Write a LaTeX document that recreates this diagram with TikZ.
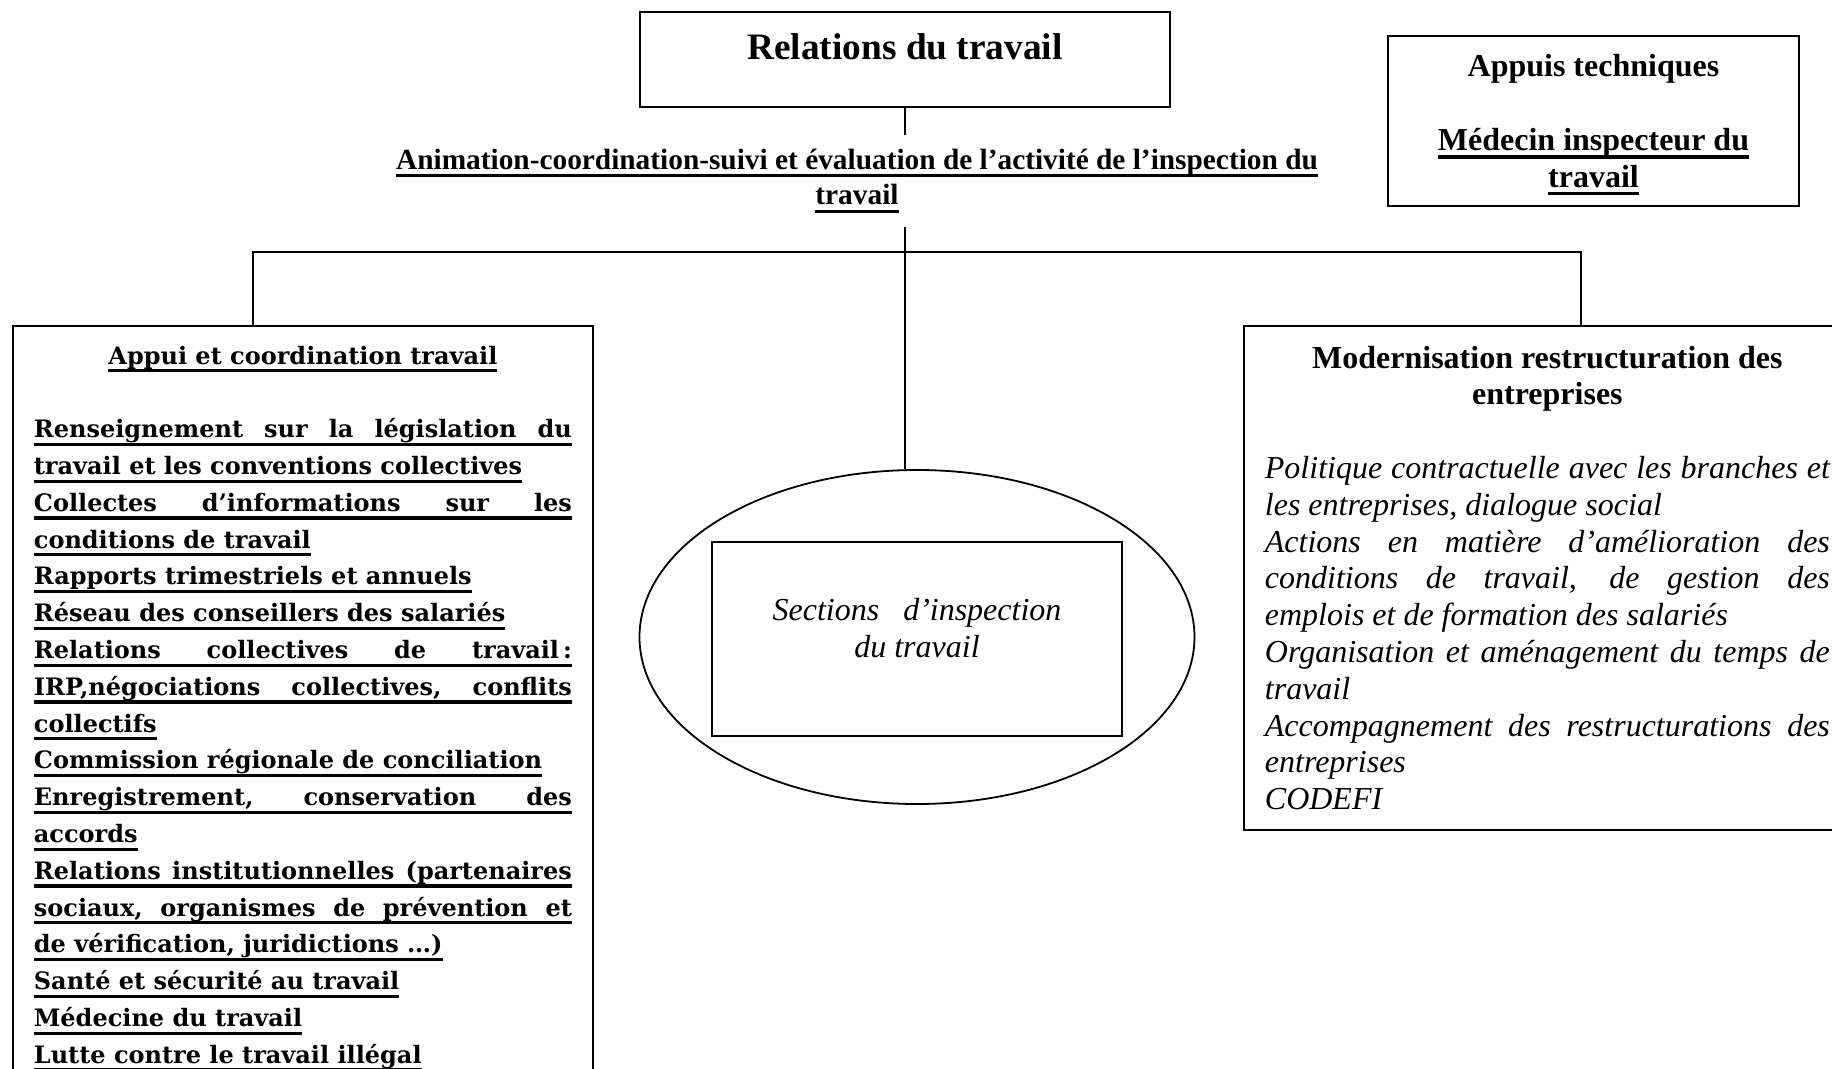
\documentclass[tikz,border=0pt]{standalone}
\usepackage{fontspec}
\setmainfont{Liberation Serif}
\newfontfamily\wideserif{DejaVu Serif}
\usetikzlibrary{shapes.geometric}
\setlength{\parindent}{0pt}
\newcommand{\ulmot}[1]{\setbox0\hbox{#1}\rlap{\vrule height -2.5pt depth 4.1pt width \wd0}\box0}
\newcommand{\ulesp}{\leaders\vrule height -2.5pt depth 4.1pt\hskip\fontdimen2\font plus\fontdimen3\font minus\fontdimen4\font}
\def\ulA#1 #2\ulend{\ulmot{#1}\ifx\relax#2\relax\else\ulesp\ulA#2\ulend\fi}
\newcommand{\souligne}[1]{\leavevmode\ulA#1 \ulend}

\begin{document}
\begin{tikzpicture}[
  x = 0.5pt, y = -0.5pt,
  box/.style = {draw,line width=.9pt,inner sep=0pt},
  txt/.style = {inner sep=0pt,align=center},
  col/.style = {draw,line width=.9pt,anchor=north west,inner xsep=10.5pt,inner ysep=10pt,align=justify}
  ]
  \clip (0,0) rectangle (1832,1069);
  \node[box,minimum width=265pt,minimum height=47.5pt] (@rel) at (905,59.5) {};
  \node[txt,font=\bfseries\fontsize{18.67}{21.5}\selectfont] (@reltxt) at (905,47) {Relations du travail};
  \node[txt,inner ysep=7pt,font=\bfseries\fontsize{14.67}{17.8}\selectfont] (@anim) at (857,181)
    {\souligne{Animation-coordination-suivi et évaluation de l’activité de l’inspection du}\\\souligne{travail}};
  \node[box,minimum width=205.5pt,minimum height=85pt] (@tech) at (1593.5,121) {};
  \node[txt,font=\bfseries\fontsize{16}{18.4}\selectfont] (@techtxt) at (1593.5,125)
    {Appuis techniques\\[18.4pt]\souligne{Médecin inspecteur du}\\\souligne{travail}};
  \node[box,ellipse,minimum width=277.5pt,minimum height=167pt] (@ell) at (917,637) {};
  \node[box,minimum width=205pt,minimum height=97pt] (@sect) at (917,639) {};
  \node[txt,font=\itshape\fontsize{16}{18.4}\selectfont] (@secttxt) at (917,628) {Sections\ \ \ d’inspection\\du travail};
  \node[col,text width=269pt,font=\wideserif\bfseries\fontsize{12}{18.4}\selectfont] (@appui) at (12,325) {%
    {\centering\souligne{Appui et coordination travail}\par}
    \vskip18.4pt
    \souligne{Renseignement sur la législation du}\linebreak\souligne{travail et les conventions collectives}\par
    \souligne{Collectes d’informations sur les}\linebreak\souligne{conditions de travail}\par
    \souligne{Rapports trimestriels et annuels}\par
    \souligne{Réseau des conseillers des salariés}\par
    \souligne{Relations collectives de travail\,:}\linebreak\souligne{IRP,négociations collectives, conflits}\linebreak\souligne{collectifs}\par
    \souligne{Commission régionale de conciliation}\par
    \souligne{Enregistrement, conservation des}\linebreak\souligne{accords}\par
    \souligne{Relations institutionnelles (partenaires}\linebreak\souligne{sociaux, organismes de prévention et}\linebreak\souligne{de vérification, juridictions …)}\par
    \souligne{Santé et sécurité au travail}\par
    \souligne{Médecine du travail}\par
    \souligne{Lutte contre le travail illégal}\par
  };
  \node[col,text width=282.5pt,font=\fontsize{16}{18.4}\selectfont] (@modern) at (1243,325) {%
    {\centering\bfseries Modernisation restructuration des\\entreprises\par}
    \vskip18.4pt
    \itshape
    Politique contractuelle avec les branches et\linebreak les entreprises, dialogue social\par
    Actions en matière d’amélioration des\linebreak conditions de travail, de gestion des\linebreak emplois et de formation des salariés\par
    Organisation et aménagement du temps de\linebreak travail\par
    Accompagnement des restructurations des\linebreak entreprises\par
    CODEFI
  };
  \coordinate (@hub) at (905,252);
  \coordinate (@g) at (253,325);
  \coordinate (@d) at (1581,325);
  \draw[line width=.9pt] (@rel.south) -- (@rel.south |- @anim.north);
  \draw[line width=.9pt] (@rel.south |- @anim.south) -- (@rel.south |- @ell.north);
  \draw[line width=.9pt] (@g) |- (@hub) -| (@d);
\end{tikzpicture}
\end{document}
